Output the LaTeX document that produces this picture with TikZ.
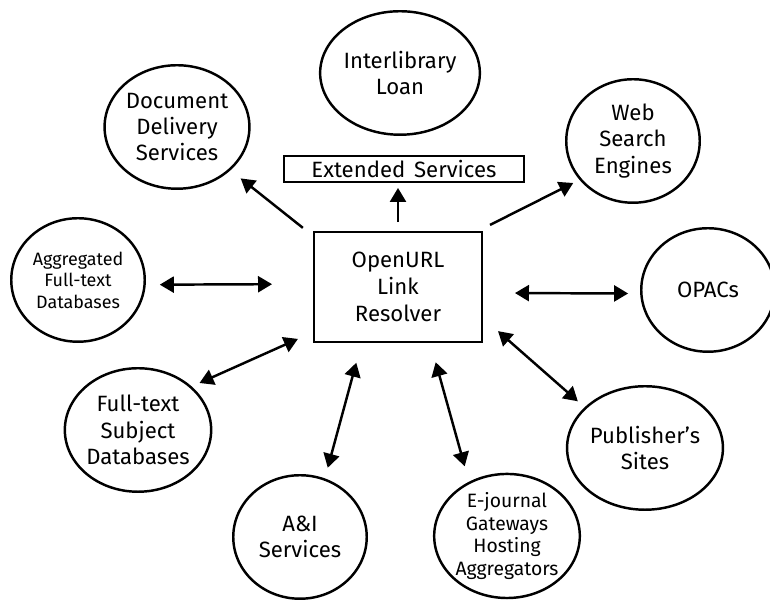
\documentclass[tikz,border=0pt]{standalone}
\usepackage{fontspec}
\setmainfont{Fira Sans}
\usetikzlibrary{shapes.geometric,arrows.meta}
\begin{document}
\begin{tikzpicture}[
	svc/.style={draw, ellipse, line width=1.4pt, minimum width=2.67cm, minimum height=2.47cm, inner sep=0pt, align=center, font=\fontsize{12.6}{15}\selectfont},
	rbox/.style={draw, rectangle, line width=1.4pt, inner sep=0pt, align=center, font=\fontsize{12.6}{15.2}\selectfont},
	tip/.style={-{Triangle[length=0.28cm,width=0.32cm]}, line width=1.4pt},
	twotip/.style={{Triangle[length=0.28cm,width=0.32cm]}-{Triangle[length=0.28cm,width=0.32cm]}, line width=1.4pt}
]
	\useasboundingbox (0,0) rectangle (15.4,12.02);
	% resolver and extended services
	\node [rbox, minimum width=3.35cm, minimum height=2.19cm] (res) at (7.96,6.28) {OpenURL\\Link\\Resolver};
	\node [rbox, minimum width=4.79cm, minimum height=0.51cm] (ext) at (8.08,8.64) {Extended\hspace{0.4em}Services};
	% services round the resolver
	\node [svc] (ill) at (8.00,10.56) {Interlibrary\\Loan};
	\node [svc] (doc) at (3.54,9.48) {Document\\Delivery\\Services};
	\node [svc] (web) at (12.66,9.20) {Web\\Search\\Engines};
	\node [svc, font=\fontsize{10.2}{12.2}\selectfont] (agg) at (1.56,6.42) {Aggregated\\Full-text\\Databases};
	\node [svc] (opac) at (14.16,6.22) {OPACs};
	\node [svc] (fts) at (2.76,3.42) {Full-text\\Subject\\Databases};
	\node [svc] (pub) at (12.90,3.06) {Publisher’s\\Sites};
	\node [svc] (ai) at (6.00,1.28) {A\&I\\Services};
	\node [svc, font=\fontsize{11}{13}\selectfont] (ej) at (10.14,1.30) {E-journal\\Gateways\\Hosting\\Aggregators};
	% arrows
	\draw [tip, shorten <=0.18cm, shorten >=0.10cm] (res.north) -- (res.north |- ext.south);
	\draw [tip, shorten <=0.26cm, shorten >=0.26cm] (res.149.5) -- (doc.-39.5);
	\draw [tip, shorten <=0.27cm, shorten >=0.14cm] (res.35.7) -- (web.-144);
	\draw [twotip, shorten <=0.82cm, shorten >=0.28cm] (res.178.7) -- (agg.-4.2);
	\draw [twotip, shorten <=0.64cm, shorten >=0.24cm] (res.-4) -- (opac.-177.5);
	\draw [twotip, shorten <=0.33cm, shorten >=0.17cm] (res.208.4) -- (fts.39);
	\draw [twotip, shorten <=0.40cm, shorten >=0.18cm] (res.-20.6) -- (pub.146);
	\draw [twotip, shorten <=0.41cm, shorten >=0.22cm] (res.237.6) -- (ai.67);
	\draw [twotip, shorten <=0.40cm, shorten >=0.32cm] (res.-60.6) -- (ej.125.6);
\end{tikzpicture}
\end{document}
